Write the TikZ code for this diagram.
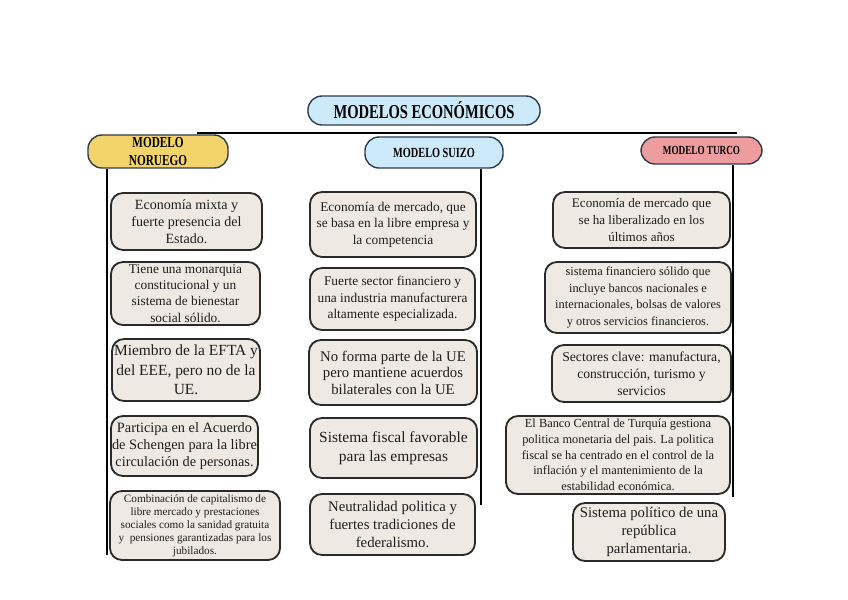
\documentclass[tikz,border=0pt]{standalone}
\usepackage{fontspec}
\setmainfont{Liberation Serif}
\newfontfamily\condfont[FakeStretch=0.74]{Liberation Serif}
\usetikzlibrary{positioning}

\definecolor{titlefill}{HTML}{CDEAFA}
\definecolor{titleline}{HTML}{2E3B4E}
\definecolor{norfill}{HTML}{F2D46A}
\definecolor{turfill}{HTML}{EE9D9F}
\definecolor{boxfill}{HTML}{EEEAE3}
\definecolor{boxline}{HTML}{2A2A2A}
\definecolor{txt}{HTML}{1E1E1E}

\newcommand{\fsz}[2]{\fontsize{#1}{#2}\selectfont}

\begin{document}
\begin{tikzpicture}[x=0.025cm, y=-0.025cm,
    titlebox/.style={draw=titleline, line width=1pt, fill=titlefill, rounded corners=0.35cm, inner sep=0pt, align=center, font=\condfont\bfseries\fsz{14}{16}},
    headbox/.style={draw=titleline, line width=1pt, rounded corners=0.35cm, inner sep=0pt, align=center, font=\condfont\bfseries\fsz{8.5}{11}},
    infobox/.style={draw=boxline, line width=1.3pt, fill=boxfill, rounded corners=0.3cm, inner sep=0pt, align=center, text=txt},
    link/.style={draw=black, line width=0.9pt}
]
\useasboundingbox (0,0) rectangle (848,599);

% Title
\node[titlebox, minimum width=5.8cm, minimum height=0.725cm] (title) at (424,110.5) {MODELOS ECONÓMICOS};

% Models
\node[headbox, fill=norfill, font=\condfont\bfseries\fsz{10.8}{13}, minimum width=3.5cm, minimum height=0.825cm] (nor) at (158,151.5) {MODELO\\NORUEGO};
\node[headbox, fill=titlefill, font=\condfont\bfseries\fsz{9.9}{12}, minimum width=3.45cm, minimum height=0.775cm] (sui) at (434,152.5) {MODELO SUIZO};
\node[headbox, fill=turfill, font=\condfont\bfseries\fsz{8.8}{11}, minimum width=3.025cm, minimum height=0.675cm] (tur) at (701.5,150.5) {MODELO TURCO};

% Branch lines
\coordinate (hL) at (197,133);
\coordinate (hR) at (737,133);
\coordinate (norEnd) at (107,555);
\coordinate (suiEnd) at (481,505);
\coordinate (turEnd) at (733,497);
\draw[link, line width=1.3pt] (hL) -- (hR);
\draw[link] (nor.south -| norEnd) -- (norEnd);
\draw[link] (sui.south -| suiEnd) -- (suiEnd);
\draw[link] (tur.south -| turEnd) -- (turEnd);

% Noruego
\node[infobox, font=\fsz{10}{12}, minimum width=3.775cm, minimum height=1.425cm] (n1) at (186.5,221.5) {Economía mixta y\\fuerte presencia del\\Estado.};
\node[infobox, font=\fsz{9.5}{11.5}, minimum width=3.725cm, minimum height=1.575cm] (n2) at (185.5,293.5) {Tiene una monarquia\\constitucional y un\\sistema de bienestar\\social sólido.};
\node[infobox, font=\fsz{11}{14}, minimum width=3.7cm, minimum height=1.55cm] (n3) at (186,370) {Miembro de la EFTA y\\del EEE, pero no de la\\UE.};
\node[infobox, font=\fsz{10.2}{12.3}, minimum width=3.675cm, minimum height=1.5cm] (n4) at (184.5,446) {Participa en el Acuerdo\\de Schengen para la libre\\circulación de personas.};
\node[infobox, font=\fsz{8}{9.3}, minimum width=4.25cm, minimum height=1.725cm] (n5) at (195,525.5) {Combinación de capitalismo de\\libre mercado y prestaciones\\sociales como la sanidad gratuita\\y~ pensiones garantizadas para los\\jubilados.};

% Suizo
\node[infobox, font=\fsz{9.5}{11.8}, minimum width=4.15cm, minimum height=1.625cm] (s1) at (393,224.5) {Economía de mercado, que\\se basa en la libre empresa y\\la competencia};
\node[infobox, font=\fsz{9.5}{11.8}, minimum width=4.125cm, minimum height=1.55cm] (s2) at (392.5,299) {Fuerte sector financiero y\\una industria manufacturera\\altamente especializada.};
\node[infobox, font=\fsz{10.5}{11.8}, minimum width=4.2cm, minimum height=1.625cm] (s3) at (393,372.5) {No forma parte de la UE\\pero mantiene acuerdos\\bilaterales con la UE};
\node[infobox, font=\fsz{11}{13.5}, minimum width=4.175cm, minimum height=1.5cm] (s4) at (393.5,448) {Sistema fiscal favorable\\para las empresas};
\node[infobox, font=\fsz{10.5}{12.8}, minimum width=4.125cm, minimum height=1.525cm] (s5) at (392.5,524.5) {Neutralidad politica y\\fuertes tradiciones de\\federalismo.};

% Turco
\node[infobox, font=\fsz{9.3}{12.3}, minimum width=4.425cm, minimum height=1.4cm] (t1) at (641.5,220) {Economía de mercado que\\se ha liberalizado en los\\últimos años};
\node[infobox, font=\fsz{8.8}{12}, minimum width=4.65cm, minimum height=1.775cm] (t2) at (638,297.5) {sistema financiero sólido que\\incluye bancos nacionales e\\internacionales, bolsas de valores\\y otros servicios financieros.};
\node[infobox, font=\fsz{9.7}{12}, minimum width=4.475cm, minimum height=1.425cm] (t3) at (641.5,373.5) {Sectores clave: manufactura,\\construcción, turismo y\\servicios};
\node[infobox, font=\fsz{8.8}{11.2}, minimum width=5.6cm, minimum height=1.95cm] (t4) at (618,455) {El Banco Central de Turquía gestiona\\politica monetaria del pais. La politica\\fiscal se ha centrado en el control de la\\inflación y el mantenimiento de la\\estabilidad económica.};
\node[infobox, font=\fsz{10.5}{12.8}, minimum width=3.8cm, minimum height=1.45cm] (t5) at (649,532) {Sistema político de una\\república\\parlamentaria.};

\end{tikzpicture}
\end{document}
